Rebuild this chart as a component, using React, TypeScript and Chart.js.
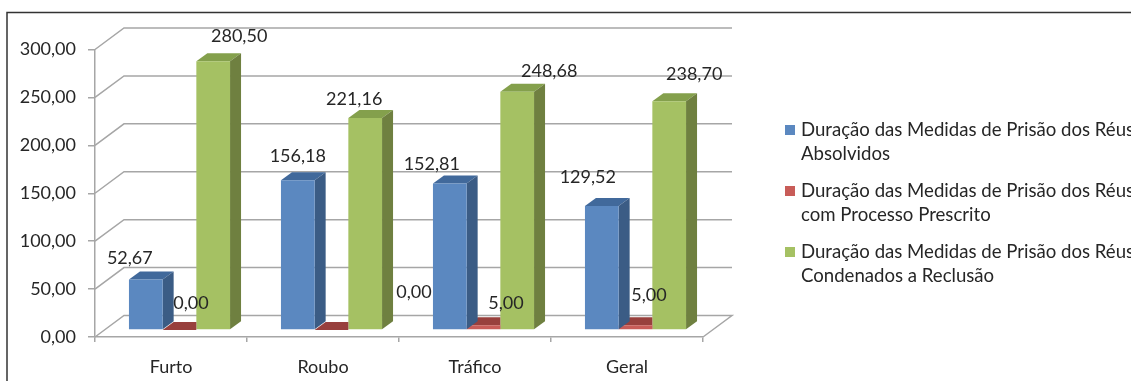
import { useEffect, useRef } from "react";
import { Chart, registerables } from "chart.js";

Chart.register(...registerables);

const categories = ["Furto", "Roubo", "Tráfico", "Geral"];
const absolvidos = [52.67, 156.18, 152.81, 129.52];
const prescrito = [0, 0, 5, 5];
const condenados = [280.5, 221.16, 248.68, 238.7];
const seriesLabels = [
  ["Duração das Medidas de Prisão dos Réus", "Absolvidos"],
  ["Duração das Medidas de Prisão dos Réus", "com Processo Prescrito"],
  ["Duração das Medidas de Prisão dos Réus", "Condenados a Reclusão"],
];

// layout of the pseudo 3D look
const BAR_SHIFT = { x: 8.5, y: -7 };
const BAR_DEPTH = { x: 11, y: -8 };
const WALL_DEPTH = { x: 29, y: -21.5 };
const FACE = ["#5b88c0", "#c85c58", "#a5c163"];
const TOP = ["#41699b", "#98403d", "#84a04c"];
const SIDE = ["#3b5c85", "#8a3a37", "#6f8040"];
const GRID = "#a6a6a6";
const TEXT = "#262626";
const FONT = "Lato";
// hand placed data labels in the reference, relative to the top of each bar
const labelNudge = [
  [[-16, -21.5], [0, -24], [-18, -19.6], [-14, -29]],
  [[11.5, -27], [82.5, -38], [22.5, -22], [13.5, -30]],
  [[26, -25.5], [-11, -19], [32, -20], [25, -27]],
];

const fmt = (v: number) => v.toFixed(2).replace(".", ",");

const poly = (ctx: CanvasRenderingContext2D, pts: number[][], fill: string) => {
  ctx.beginPath();
  pts.forEach((p, i) => (i ? ctx.lineTo(p[0], p[1]) : ctx.moveTo(p[0], p[1])));
  ctx.closePath();
  ctx.fillStyle = fill;
  ctx.fill();
};

const scene3d = {
  id: "scene3d",
  beforeDraw(chart: any) {
    const { ctx } = chart;
    ctx.save();
    ctx.strokeStyle = "#333333";
    ctx.lineWidth = 1.5;
    ctx.beginPath();
    ctx.moveTo(7, 381);
    ctx.lineTo(7, 12.5);
    ctx.lineTo(1131, 12.5);
    ctx.stroke();
    ctx.restore();
  },
  beforeDatasetsDraw(chart: any) {
    const { ctx, chartArea, scales } = chart;
    const { left, right } = chartArea;
    ctx.save();
    ctx.strokeStyle = GRID;
    ctx.lineWidth = 1.5;
    scales.y.ticks.forEach((t: any) => {
      const y = scales.y.getPixelForValue(t.value);
      ctx.beginPath();
      ctx.moveTo(left, y);
      ctx.lineTo(left + WALL_DEPTH.x, y + WALL_DEPTH.y);
      ctx.lineTo(right + WALL_DEPTH.x, y + WALL_DEPTH.y);
      if (t.value === 0) ctx.lineTo(right, y);
      ctx.stroke();
    });
    ctx.restore();
  },
  beforeDatasetDraw(chart: any, args: any) {
    const { ctx } = chart;
    const i = args.index;
    ctx.save();
    args.meta.data.forEach((bar: any) => {
      const p = bar.getProps(["x", "y", "base", "width"], true);
      const l = p.x - p.width / 2 + BAR_SHIFT.x;
      const r = p.x + p.width / 2 + BAR_SHIFT.x;
      const t = p.y + BAR_SHIFT.y;
      const b = p.base + BAR_SHIFT.y;
      const dx = BAR_DEPTH.x;
      const dy = BAR_DEPTH.y;
      ctx.save();
      if (i === 1) {
        // the neighbouring green bar hides the far end of the red one
        ctx.beginPath();
        ctx.rect(l, 0, r - l, chart.height);
        ctx.clip();
      }
      poly(ctx, [[l, t], [r, t], [r + dx, t + dy], [l + dx, t + dy]], TOP[i]);
      poly(ctx, [[r, t], [r + dx, t + dy], [r + dx, b + dy], [r, b]], SIDE[i]);
      ctx.restore();
    });
    ctx.translate(BAR_SHIFT.x, BAR_SHIFT.y);
  },
  afterDatasetDraw(chart: any) {
    chart.ctx.restore();
  },
  afterDatasetsDraw(chart: any) {
    const { ctx } = chart;
    ctx.save();
    ctx.fillStyle = TEXT;
    ctx.font = `18px ${FONT}`;
    ctx.textAlign = "center";
    ctx.textBaseline = "middle";
    chart.data.datasets.forEach((ds: any, i: number) => {
      chart.getDatasetMeta(i).data.forEach((bar: any, j: number) => {
        const n = labelNudge[i][j];
        ctx.fillText(fmt(ds.data[j]), bar.x + BAR_SHIFT.x + n[0], bar.y + BAR_SHIFT.y + n[1]);
      });
    });
    // legend
    ctx.textAlign = "left";
    ctx.font = `18.6px ${FONT}`;
    seriesLabels.forEach((lines, i) => {
      const y = 130 + i * 61;
      ctx.fillStyle = FACE[i];
      ctx.fillRect(785, y - 5, 10, 10);
      ctx.fillStyle = TEXT;
      lines.forEach((line, k) => ctx.fillText(line, 801, y + k * 24.4));
    });
    ctx.restore();
  },
};

export default function App() {
  const ref = useRef<HTMLCanvasElement>(null);
  useEffect(() => {
    if (!ref.current) return;
    const chart = new Chart(ref.current, {
      type: "bar",
      data: {
        labels: categories,
        datasets: [absolvidos, prescrito, condenados].map((data, i) => ({
          label: seriesLabels[i].join(" "),
          data,
          backgroundColor: FACE[i],
          barPercentage: 1,
          categoryPercentage: 0.665,
        })),
      },
      plugins: [scene3d],
      options: {
        animation: false,
        responsive: false,
        layout: { padding: { left: 0, top: 49.5, right: 428, bottom: 0 } },
        plugins: {
          tooltip: { enabled: false },
          legend: { display: false },
        },
        scales: {
          x: {
            afterFit: (s: any) => {
              s.height = 44;
            },
            border: { color: GRID, width: 1.5 },
            grid: { drawOnChartArea: false, color: GRID, tickLength: 5, lineWidth: 1.5 },
            ticks: { color: TEXT, font: { family: FONT, size: 18 }, padding: 14 },
          },
          y: {
            min: 0,
            max: 300,
            afterFit: (s: any) => {
              s.width = 95;
            },
            border: { color: GRID, width: 1.5 },
            grid: { drawOnChartArea: false, color: GRID, tickLength: 7, lineWidth: 1.5 },
            ticks: {
              stepSize: 50,
              color: TEXT,
              font: { family: FONT, size: 18 },
              padding: 12,
              callback: (v: any) => fmt(Number(v)),
            },
          },
        },
      },
    });
    return () => chart.destroy();
  }, []);
  return (
    <div style={{ position: "fixed", left: 0, top: 0, width: 1131, height: 381, background: "#fff" }}>
      <canvas ref={ref} width={1131} height={381} style={{ display: "block" }} />
    </div>
  );
}
